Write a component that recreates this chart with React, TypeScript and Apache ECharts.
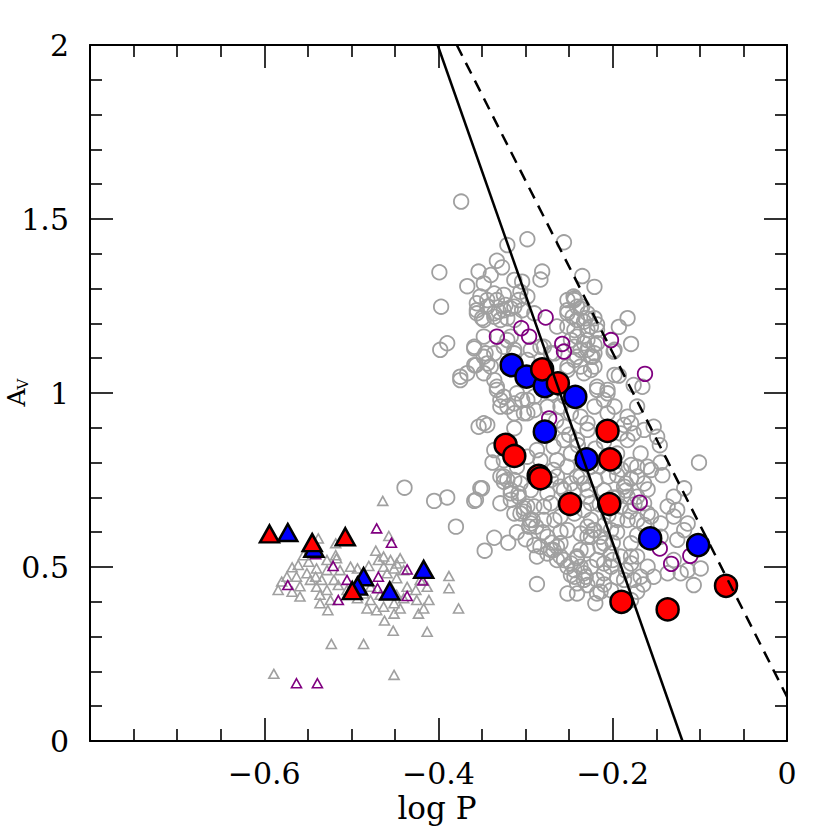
import React, { useEffect, useRef } from "react";
import * as echarts from "echarts";

type P = [number, number];

const greyCircles: P[] = [
  [-0.374,1.550],[-0.298,1.442],[-0.256,1.433],[-0.321,1.425],[-0.333,1.380],[-0.327,1.361],[-0.399,1.347],[-0.354,1.349],[-0.340,1.339],[-0.281,1.349],
  [-0.283,1.326],[-0.235,1.336],[-0.221,1.305],[-0.367,1.307],[-0.348,1.315],[-0.313,1.325],[-0.304,1.320],[-0.352,1.277],[-0.336,1.286],[-0.325,1.282],
  [-0.252,1.267],[-0.245,1.277],[-0.235,1.248],[-0.397,1.248],[-0.356,1.258],[-0.344,1.248],[-0.356,1.229],[-0.336,1.229],[-0.325,1.238],[-0.313,1.248],
  [-0.348,1.210],[-0.329,1.210],[-0.313,1.210],[-0.290,1.229],[-0.252,1.229],[-0.241,1.210],[-0.229,1.229],[-0.218,1.197],[-0.244,1.181],[-0.229,1.181],
  [-0.398,1.124],[-0.390,1.143],[-0.359,1.133],[-0.348,1.162],[-0.346,1.114],[-0.317,1.162],[-0.325,1.133],[-0.313,1.114],[-0.279,1.133],[-0.267,1.114],
  [-0.244,1.133],[-0.229,1.124],[-0.221,1.114],[-0.375,1.047],[-0.367,1.057],[-0.359,1.080],[-0.340,1.076],[-0.252,1.076],[-0.237,1.076],[-0.225,1.066],
  [-0.298,1.277],[-0.306,1.291],[-0.344,1.267],[-0.333,1.267],[-0.323,1.253],[-0.356,1.238],[-0.331,1.234],[-0.317,1.243],[-0.350,1.215],[-0.336,1.219],
  [-0.321,1.215],[-0.308,1.267],[-0.304,1.238],[-0.244,1.272],[-0.237,1.243],[-0.246,1.219],[-0.233,1.205],[-0.221,1.215],[-0.218,1.181],[-0.252,1.191],
  [-0.264,1.191],[-0.241,1.162],[-0.229,1.152],[-0.218,1.143],[-0.237,1.124],[-0.223,1.104],[-0.244,1.095],[-0.198,1.124],[-0.198,1.052],[-0.206,1.009],
  [-0.218,1.009],[-0.210,0.980],[-0.221,0.961],[-0.206,0.942],[-0.359,1.128],[-0.348,1.104],[-0.336,1.114],[-0.357,1.080],[-0.344,1.085],[-0.348,1.057],
  [-0.336,1.037],[-0.321,1.152],[-0.313,1.124],[-0.294,1.124],[-0.283,1.133],[-0.271,1.114],[-0.298,1.095],[-0.252,1.066],[-0.333,1.009],[-0.325,0.989],
  [-0.310,0.999],[-0.329,0.961],[-0.313,0.970],[-0.298,0.980],[-0.302,0.942],[-0.290,0.951],[-0.260,0.961],[-0.248,0.942],[-0.237,0.932],[-0.229,0.913],
  [-0.348,0.913],[-0.252,1.238],[-0.241,1.248],[-0.231,1.215],[-0.225,1.191],[-0.248,1.152],[-0.233,1.143],[-0.221,1.138],[-0.241,1.104],[-0.225,1.104],
  [-0.221,1.076],[-0.233,1.057],[-0.218,1.018],[-0.206,0.999],[-0.198,0.961],[-0.183,0.932],[-0.179,0.913],[-0.172,0.961],[-0.191,0.884],[-0.244,1.267],
  [-0.183,1.215],[-0.193,1.190],[-0.179,1.141],[-0.199,1.119],[-0.193,1.050],[-0.176,1.023],[-0.166,1.018],[-0.153,0.903],[-0.149,0.874],[-0.146,0.850],
  [-0.354,0.903],[-0.344,0.908],[-0.333,1.018],[-0.329,0.980],[-0.321,0.961],[-0.313,0.942],[-0.304,0.980],[-0.298,0.942],[-0.336,0.836],[-0.325,0.807],
  [-0.338,0.800],[-0.329,0.760],[-0.321,0.750],[-0.317,0.712],[-0.308,0.702],[-0.298,0.674],[-0.292,0.635],[-0.296,0.616],[-0.306,0.654],[-0.275,0.587],
  [-0.283,0.558],[-0.275,0.539],[-0.260,0.568],[-0.264,0.520],[-0.252,0.501],[-0.244,0.472],[-0.233,0.482],[-0.229,0.448],[-0.220,0.396],[-0.287,0.451],
  [-0.290,0.563],[-0.252,0.424],[-0.241,0.424],[-0.375,1.037],[-0.439,0.728],[-0.405,0.690],[-0.390,0.700],[-0.359,0.690],[-0.352,0.726],[-0.380,0.616],
  [-0.336,0.584],[-0.347,0.547],[-0.329,0.683],[-0.313,0.899],[-0.325,0.760],[-0.350,0.726],[-0.357,0.693],[-0.302,0.669],[-0.313,0.654],[-0.290,0.674],
  [-0.294,0.625],[-0.279,0.635],[-0.267,0.635],[-0.260,0.601],[-0.271,0.549],[-0.256,0.520],[-0.248,0.510],[-0.241,0.530],[-0.237,0.501],[-0.229,0.549],
  [-0.225,0.587],[-0.218,0.520],[-0.210,0.482],[-0.202,0.501],[-0.218,0.463],[-0.248,0.477],[-0.241,0.453],[-0.231,0.472],[-0.214,0.429],[-0.202,0.433],
  [-0.176,0.463],[-0.179,0.510],[-0.172,0.530],[-0.160,0.501],[-0.179,0.568],[-0.183,0.635],[-0.172,0.635],[-0.164,0.740],[-0.179,0.754],[-0.187,0.731],
  [-0.195,0.764],[-0.172,0.788],[-0.198,0.788],[-0.160,0.788],[-0.195,0.826],[-0.168,0.826],[-0.183,0.865],[-0.176,0.884],[-0.164,0.894],[-0.187,0.908],
  [-0.268,0.846],[-0.256,0.865],[-0.264,0.807],[-0.252,0.788],[-0.248,0.826],[-0.241,0.760],[-0.233,0.740],[-0.244,0.721],[-0.229,0.702],[-0.233,0.664],
  [-0.225,0.635],[-0.260,0.731],[-0.271,0.750],[-0.275,0.712],[-0.268,0.779],[-0.225,0.788],[-0.241,0.865],[-0.229,0.894],[-0.256,0.903],[-0.294,0.721],
  [-0.306,0.740],[-0.317,0.693],[-0.310,0.788],[-0.298,0.817],[-0.287,0.836],[-0.283,0.807],[-0.222,0.606],[-0.237,0.596],[-0.210,0.568],[-0.202,0.606],
  [-0.195,0.635],[-0.191,0.674],[-0.183,0.702],[-0.172,0.702],[-0.164,0.683],[-0.160,0.654],[-0.287,0.530],[-0.264,0.558],[-0.202,0.539],[-0.191,0.530],
  [-0.101,0.800],[-0.145,0.800],[-0.156,0.779],[-0.143,0.764],[-0.179,0.793],[-0.172,0.760],[-0.185,0.740],[-0.160,0.723],[-0.118,0.726],[-0.130,0.702],
  [-0.137,0.674],[-0.126,0.664],[-0.130,0.645],[-0.114,0.625],[-0.145,0.625],[-0.156,0.645],[-0.164,0.621],[-0.172,0.592],[-0.145,0.587],[-0.126,0.578],
  [-0.118,0.606],[-0.130,0.520],[-0.122,0.482],[-0.137,0.482],[-0.153,0.472],[-0.168,0.472],[-0.107,0.448],[-0.099,0.496],[-0.114,0.491],[-0.179,0.530],
  [-0.187,0.463],[-0.172,0.429],[-0.218,0.424],[-0.179,0.405],[-0.285,1.050],[-0.270,1.000],[-0.260,1.040],[-0.290,0.990],[-0.275,0.960],[-0.255,0.990],
  [-0.265,0.920],[-0.250,0.880],[-0.240,0.850],[-0.220,0.840],[-0.210,0.860],[-0.230,0.810],[-0.215,0.790],[-0.205,0.760],[-0.220,0.750],[-0.210,0.720],
  [-0.200,0.700],[-0.215,0.680],[-0.205,0.650],[-0.210,0.620],[-0.195,0.600],[-0.200,0.570],
  [-0.325,0.745],[-0.313,0.750],[-0.317,0.721],[-0.308,0.712],[-0.302,0.659],[-0.295,0.635],[-0.288,0.616],[-0.279,0.674],[-0.271,0.683],[-0.260,0.645],
  [-0.252,0.606],[-0.268,0.549],[-0.260,0.530],[-0.244,0.491],[-0.241,0.525],[-0.237,0.549],[-0.229,0.587],[-0.221,0.606],[-0.229,0.616],[-0.225,0.683],
  [-0.229,0.721],[-0.248,0.740],[-0.237,0.760],[-0.264,0.760],[-0.256,0.721],[-0.244,0.654],[-0.233,0.463],[-0.210,0.510],[-0.214,0.558],[-0.214,0.587],
  [-0.190,0.780],[-0.185,0.720],[-0.175,0.680],[-0.195,0.700],[-0.180,0.660],[-0.225,0.500],[-0.210,0.450],[-0.195,0.470],[-0.185,0.490],[-0.200,0.520],
  [-0.165,0.450],[-0.310,0.600],[-0.300,0.580],[-0.320,0.570],[-0.280,0.600],[-0.270,0.570],
];

const purpleCircles: P[] = [
  [-0.333,1.162],[-0.305,1.186],[-0.296,1.162],[-0.277,1.217],[-0.258,1.141],[-0.256,1.119],[-0.202,1.152],
  [-0.163,1.055],[-0.273,0.927],[-0.169,0.685],[-0.146,0.553],[-0.133,0.509],[-0.111,0.532],
];

const greyTriangles: P[] = [
  [-0.464,0.690],[-0.457,0.589],[-0.472,0.547],[-0.538,0.582],[-0.518,0.568],[-0.568,0.499],[-0.561,0.506],[-0.549,0.515],[-0.580,0.458],[-0.584,0.434],
  [-0.568,0.429],[-0.559,0.445],[-0.559,0.415],[-0.541,0.472],[-0.534,0.463],[-0.540,0.443],[-0.528,0.434],[-0.536,0.420],[-0.524,0.405],[-0.536,0.396],
  [-0.527,0.376],[-0.517,0.525],[-0.528,0.491],[-0.513,0.491],[-0.520,0.463],[-0.501,0.501],[-0.493,0.496],[-0.480,0.503],[-0.469,0.520],[-0.463,0.530],
  [-0.455,0.520],[-0.448,0.510],[-0.444,0.525],[-0.463,0.501],[-0.451,0.496],[-0.440,0.491],[-0.459,0.482],[-0.448,0.468],[-0.478,0.443],[-0.486,0.424],
  [-0.478,0.405],[-0.482,0.381],[-0.493,0.410],[-0.448,0.420],[-0.451,0.396],[-0.440,0.410],[-0.444,0.381],[-0.451,0.366],[-0.425,0.405],[-0.423,0.366],
  [-0.417,0.381],[-0.411,0.405],[-0.413,0.443],[-0.421,0.463],[-0.388,0.474],[-0.388,0.439],[-0.377,0.381],[-0.413,0.314],[-0.452,0.317],[-0.462,0.346],
  [-0.523,0.279],[-0.486,0.279],[-0.589,0.193],[-0.451,0.190],[-0.515,0.448],[-0.505,0.434],[-0.547,0.463],[-0.551,0.482],[-0.574,0.472],[-0.555,0.534],
  [-0.528,0.520],[-0.518,0.534],[-0.467,0.420],[-0.463,0.386],[-0.471,0.376],[-0.455,0.443],[-0.436,0.443],[-0.426,0.434],[-0.482,0.463],[-0.540,0.496],
  [-0.563,0.472],
];

const purpleTriangles: P[] = [
  [-0.471,0.611],[-0.454,0.570],[-0.521,0.503],[-0.573,0.448],[-0.505,0.463],[-0.469,0.472],[-0.470,0.439],
  [-0.515,0.405],[-0.436,0.493],[-0.418,0.461],[-0.436,0.417],[-0.563,0.166],[-0.539,0.166],[-0.541,0.537],
];

const blueCircles: P[] = [
  [-0.316,1.080],[-0.299,1.047],[-0.278,1.020],[-0.243,0.989],[-0.278,0.889],[-0.230,0.809],[-0.157,0.582],[-0.102,0.563],
];

const redCircles: P[] = [
  [-0.281,1.068],[-0.263,1.028],[-0.206,0.891],[-0.323,0.851],[-0.313,0.819],[-0.203,0.809],[-0.285,0.762],
  [-0.283,0.755],[-0.249,0.681],[-0.204,0.681],[-0.190,0.400],[-0.137,0.378],[-0.070,0.446],
];

const blueTriangles: P[] = [
  [-0.573,0.599],[-0.543,0.554],[-0.486,0.472],[-0.493,0.445],[-0.456,0.431],[-0.417,0.493],
];

const redTriangles: P[] = [
  [-0.594,0.595],[-0.545,0.570],[-0.507,0.587],[-0.499,0.432],
];

const solidLine: P[] = [[-0.401, 2], [-0.120, 0]];
const dashedLine: P[] = [[-0.379, 2], [0, 0.127]];

const xRange = { min: -0.8, max: 0, interval: 0.2 };
const yRange = { min: 0, max: 2, interval: 0.5 };

const FONT = '"DejaVu Serif", serif';

export default function App() {
  const ref = useRef<HTMLDivElement>(null);
  useEffect(() => {
    if (!ref.current) return;
    const chart = echarts.init(ref.current, undefined, { renderer: "svg" });
    const lineStyle = { color: "#000", width: 2 };
    const tickStyle = { color: "#000", width: 1.6 };
    const common = {
      type: "value" as const,
      axisLine: { show: true, onZero: false, lineStyle },
      axisTick: { show: true, inside: true, length: 23, lineStyle: tickStyle },
      splitLine: { show: false },
    };
    const fmtX = (v: number) => {
      const r = Math.round(v * 10) / 10;
      if (r <= -0.8) return "";
      if (r === 0) return "0";
      return r < 0 ? "\u2212" + Math.abs(r).toString() : r.toString();
    };
    const scatter = (data: P[], symbol: string, size: any, fill: string, border: string, bw: number) => ({
      type: "scatter",
      data,
      symbol,
      symbolSize: size,
      silent: true,
      itemStyle: { color: fill, borderColor: border, borderWidth: bw, opacity: 1 },
    });
    chart.setOption({
      animation: false,
      backgroundColor: "#fff",
      grid: { left: 90, right: 43, top: 45, bottom: 89 },
      xAxis: [
        {
          ...common,
          ...xRange,
          position: "bottom",
          minorTick: { show: true, splitNumber: 4, length: 12, lineStyle: tickStyle },
          axisLabel: { show: true, margin: 17, color: "#000", fontSize: 30, fontFamily: FONT, formatter: fmtX, showMinLabel: true, showMaxLabel: true },
        },
        {
          ...common,
          ...xRange,
          position: "top",
          minorTick: { show: true, splitNumber: 4, length: 12, lineStyle: tickStyle },
          axisLabel: { show: false },
        },
      ],
      yAxis: [
        {
          ...common,
          ...yRange,
          position: "left",
          minorTick: { show: true, splitNumber: 5, length: 12, lineStyle: tickStyle },
          axisLabel: { show: true, margin: 21, color: "#000", fontSize: 30, fontFamily: FONT, showMinLabel: true, showMaxLabel: true },
        },
        {
          ...common,
          ...yRange,
          position: "right",
          minorTick: { show: true, splitNumber: 5, length: 12, lineStyle: tickStyle },
          axisLabel: { show: false },
        },
      ],
      series: [
        scatter(greyTriangles, "triangle", [10, 9], "rgba(0,0,0,0)", "#a0a0a0", 1.6),
        scatter(purpleTriangles, "triangle", [10, 9], "rgba(0,0,0,0)", "#800080", 1.6),
        scatter(greyCircles, "circle", 14.5, "rgba(0,0,0,0)", "#a0a0a0", 1.8),
        scatter(purpleCircles, "circle", 14.5, "rgba(0,0,0,0)", "#800080", 1.8),
        {
          type: "line",
          data: solidLine,
          showSymbol: false,
          silent: true,
          lineStyle: { color: "#000", width: 2.5, type: "solid" },
        },
        {
          type: "line",
          data: dashedLine,
          showSymbol: false,
          silent: true,
          lineStyle: { color: "#000", width: 2.5, type: [12, 8] },
        },
        scatter(blueTriangles, "triangle", [19, 17], "#0000ff", "#000", 2.5),
        scatter(redTriangles, "triangle", [19, 17], "#ff0000", "#000", 2.5),
        scatter(blueCircles, "circle", 22, "#0000ff", "#000", 2.5),
        scatter(redCircles, "circle", 22, "#ff0000", "#000", 2.5),
      ],
      graphic: [
        {
          type: "text",
          x: 437,
          y: 808,
          style: { text: "log P", font: `31px ${FONT}`, fill: "#000", textAlign: "center", textVerticalAlign: "middle" },
        },
        {
          type: "text",
          x: 16,
          y: 397.5,
          rotation: Math.PI / 2,
          style: { text: "A", font: `25px ${FONT}`, fill: "#000", textAlign: "center", textVerticalAlign: "middle" },
        },
        {
          type: "text",
          x: 23,
          y: 384,
          rotation: Math.PI / 2,
          style: { text: "V", font: `15px ${FONT}`, fill: "#000", textAlign: "center", textVerticalAlign: "middle" },
        },
      ],
    });
    return () => chart.dispose();
  }, []);
  return <div ref={ref} style={{ position: "absolute", left: 0, top: 0, width: 830, height: 830 }} />;
}
